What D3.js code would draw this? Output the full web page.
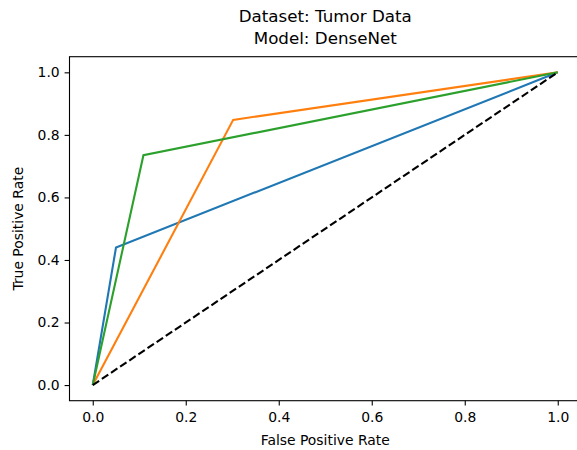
<!DOCTYPE html>
<html lang="en">
<head>
<meta charset="UTF-8">
<title>ROC</title>
<script src="https://d3js.org/d3.v7.min.js"></script>
<style>
    body { margin: 0; background: white; }
    text { font-family: "DejaVu Sans", sans-serif; font-size: 13.9px; fill: #000; }
</style>
</head>
<body>
<script>
// ROC curves, one per class
var seriesNames = ["class0", "class1", "class2"]
var seriesColors = ["#1f77b4", "#ff7f0e", "#2ca02c"]
var fprBlue = [0, 0.05, 1]
var tprBlue = [0, 0.44, 1]
var fprOrange = [0, 0.302, 1]
var tprOrange = [0, 0.848, 1]
var fprGreen = [0, 0.109, 1]
var tprGreen = [0, 0.735, 1]
var chanceLine = [0, 1]
var tickValues = [0, 0.2, 0.4, 0.6, 0.8, 1.0]
var titleLines = ["Dataset: Tumor Data", "Model: DenseNet"]

var width = 577, height = 450
var plotLeft = 69.5, plotRight = 581, plotTop = 56.7, plotBottom = 400.7

var svg = d3.select("body").append("svg")
    .attr("width", width).attr("height", height)

var x = d3.scaleLinear().domain([-0.05, 1.05]).range([plotLeft, plotRight])
var y = d3.scaleLinear().domain([-0.05, 1.05]).range([plotBottom, plotTop])

var curves = [
    {fpr: fprBlue, tpr: tprBlue},
    {fpr: fprOrange, tpr: tprOrange},
    {fpr: fprGreen, tpr: tprGreen}
]

var line = d3.line().x(d => x(d[0])).y(d => y(d[1]))

curves.forEach(function (c, i) {
    svg.append("path")
        .datum(c.fpr.map((f, j) => [f, c.tpr[j]]))
        .attr("d", line)
        .attr("fill", "none")
        .attr("stroke", seriesColors[i])
        .attr("stroke-width", 2.1)
        .attr("stroke-linejoin", "miter")
})

svg.append("path")
    .datum(chanceLine.map(v => [v, v]))
    .attr("d", line)
    .attr("fill", "none")
    .attr("stroke", "black")
    .attr("stroke-width", 2.1)
    .attr("stroke-dasharray", "7.7,3.3")

// axes
var xAxis = svg.append("g")
    .attr("transform", "translate(0," + plotBottom + ")")
    .call(d3.axisBottom(x).tickValues(tickValues).tickFormat(d3.format(".1f")).tickSize(4.9).tickPadding(4.9))
var yAxis = svg.append("g")
    .attr("transform", "translate(" + plotLeft + ",0)")
    .call(d3.axisLeft(y).tickValues(tickValues).tickFormat(d3.format(".1f")).tickSize(4.9).tickPadding(4.9))

;[xAxis, yAxis].forEach(function (g) {
    g.select(".domain").remove()
    g.selectAll("line").attr("stroke", "black").attr("stroke-width", 1.1)
    g.selectAll("text").attr("font-size", null).attr("font-family", null)
})
xAxis.selectAll("text").attr("dy", "0.85em")

// frame
svg.append("rect")
    .attr("x", plotLeft).attr("y", plotTop)
    .attr("width", plotRight - plotLeft).attr("height", plotBottom - plotTop)
    .attr("fill", "none").attr("stroke", "black").attr("stroke-width", 1.1)

// labels
svg.append("text")
    .attr("x", (plotLeft + plotRight) / 2).attr("y", 445)
    .attr("text-anchor", "middle")
    .text("False Positive Rate")

svg.append("text")
    .attr("transform", "translate(23," + (plotTop + plotBottom) / 2 + ") rotate(-90)")
    .attr("text-anchor", "middle")
    .text("True Positive Rate")

svg.selectAll(".title")
    .data(titleLines)
    .enter().append("text")
    .attr("class", "title")
    .attr("x", (plotLeft + plotRight) / 2)
    .attr("y", (d, i) => 22 + i * 22)
    .attr("text-anchor", "middle")
    .style("font-size", "16.7px")
    .text(d => d)
</script>
</body>
</html>
